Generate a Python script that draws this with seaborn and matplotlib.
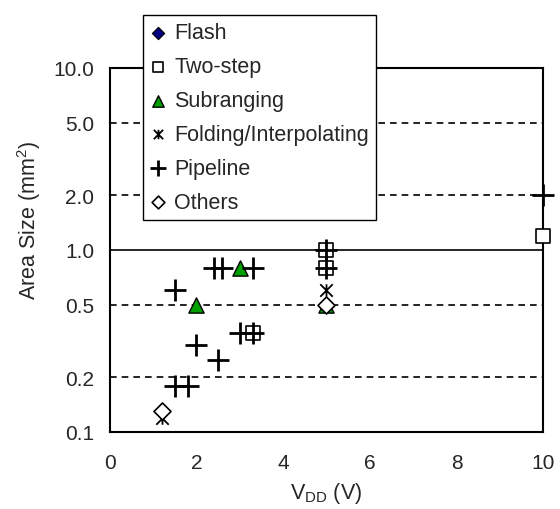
import numpy as np
import pandas as pd
import matplotlib
matplotlib.use("Agg")
import matplotlib.pyplot as plt
from matplotlib.path import Path
import seaborn as sns

# data
flash_x = []
flash_y = []
twostep_x = [3.3, 5.0, 5.0, 10.0]
twostep_y = [0.35, 1.0, 0.8, 1.2]
subrange_x = [2.0, 3.0, 5.0]
subrange_y = [0.5, 0.8, 0.5]
folding_x = [1.2, 5.0]
folding_y = [0.12, 0.6]
pipeline_x = [1.5, 1.5, 1.8, 2.0, 2.5, 2.4, 2.6, 3.0, 3.3, 3.3, 5.0, 5.0, 10.0]
pipeline_y = [0.6, 0.18, 0.18, 0.3, 0.25, 0.8, 0.8, 0.35, 0.8, 0.35, 1.0, 0.8, 2.0]
others_x = [1.2, 5.0]
others_y = [0.13, 0.5]

y_ticks = [0.1, 0.2, 0.5, 1.0, 2.0, 5.0, 10.0]
y_tick_labels = ["0.1", "0.2", "0.5", "1.0", "2.0", "5.0", "10.0"]
x_ticks = [0, 2, 4, 6, 8, 10]

sns.set_theme(style="white")
plt.rcParams["font.family"] = ["Liberation Sans", "DejaVu Sans"]
plt.rcParams["mathtext.fontset"] = "custom"
plt.rcParams["mathtext.rm"] = "Liberation Sans"

# excel style star: x plus a vertical bar
star = Path([(0, -1), (0, 1), (-1, -1), (1, 1), (-1, 1), (1, -1)],
            [Path.MOVETO, Path.LINETO, Path.MOVETO, Path.LINETO, Path.MOVETO, Path.LINETO])

series = [
    ("Flash", flash_x, flash_y, dict(marker="D", s=70, color="#000080", edgecolor="black", linewidth=0.8)),
    ("Two-step", twostep_x, twostep_y, dict(marker="s", s=100, color="white", edgecolor="black", linewidth=1.2)),
    ("Subranging", subrange_x, subrange_y, dict(marker="^", s=120, color="#00a000", edgecolor="black", linewidth=1.0)),
    ("Folding/Interpolating", folding_x, folding_y, dict(marker=star, s=80, color="black", edgecolor="black", linewidth=1.3)),
    ("Pipeline", pipeline_x, pipeline_y, dict(marker="+", s=240, color="black", linewidth=2.0)),
    ("Others", others_x, others_y, dict(marker="D", s=75, color="white", edgecolor="black", linewidth=1.2)),
]

fig = plt.figure(figsize=(5.6, 5.1), dpi=100)
ax = fig.add_axes([0.196, 0.151, 0.774, 0.714])

for name, xs, ys, kw in series:
    df = pd.DataFrame({"x": xs, "y": ys}, dtype=float)
    if len(df):
        sns.scatterplot(data=df, x="x", y="y", ax=ax, label=name, clip_on=False, zorder=3, **kw)
    else:
        # seaborn drops empty series from the legend, so add it directly
        ax.scatter(df["x"], df["y"], label=name, **kw)

ax.set_yscale("log")
ax.set_ylim(0.1, 10)
ax.set_xlim(0, 10)
ax.set_yticks(y_ticks)
ax.set_yticklabels(y_tick_labels)
ax.yaxis.set_minor_locator(matplotlib.ticker.NullLocator())
ax.set_xticks(x_ticks)

ax.grid(axis="y", color="black", linestyle=(0, (4, 3)), linewidth=1.2)
for tick_val, gl in zip(ax.get_yticks(), ax.get_ygridlines()):
    if np.isclose(tick_val, 1.0):
        gl.set_linestyle("-")
        gl.set_linewidth(1.2)

ax.tick_params(axis="x", direction="in", length=7, width=1, pad=15, labelsize=15, color="black")
ax.tick_params(axis="y", length=0, pad=11, labelsize=15)
for sp in ax.spines.values():
    sp.set_color("black")
    sp.set_linewidth(1.5)

ax.set_xlabel("V$_{\\mathrm{DD}}$ (V)", fontsize=15.5, labelpad=6)
ax.set_ylabel("Area Size (mm$^2$)", fontsize=15.5)
ax.yaxis.set_label_coords(-0.155, 0.585)

handles, labels = ax.get_legend_handles_labels()
order = [labels.index(s[0]) for s in series]
leg = ax.legend([handles[i] for i in order], [labels[i] for i in order],
                loc="upper left", bbox_to_anchor=(0.255, 0.969), bbox_transform=fig.transFigure,
                fontsize=15.5, frameon=True, fancybox=False, framealpha=1, edgecolor="black",
                handlelength=0.7, handletextpad=0.4, labelspacing=0.6, borderpad=0.35,
                markerscale=0.75, borderaxespad=0)
leg.get_frame().set_linewidth(1.0)
leg.set_zorder(10)

fig.savefig("out.png", dpi=100)
